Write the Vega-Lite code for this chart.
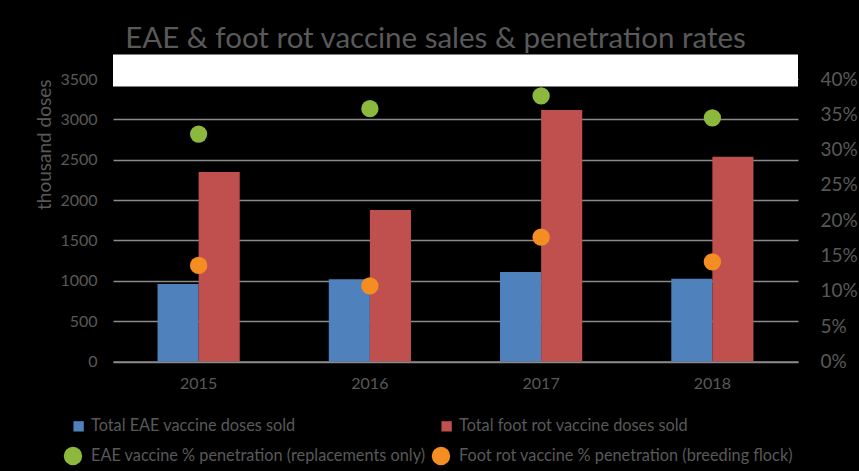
{
  "$schema": "https://vega.github.io/schema/vega-lite/v6.json",
  "width": 685,
  "height": 282.5,
  "autosize": "none",
  "padding": {"left": 113, "top": 79, "right": 61, "bottom": 109.5},
  "background": "#000000",
  "config": {"view": {"stroke": null}, "font": "Lato"},
  "title": {
    "text": "EAE & foot rot vaccine sales & penetration rates",
    "fontSize": 29.5,
    "font": "Lato",
    "fontWeight": "normal",
    "color": "#595959",
    "anchor": "middle",
    "offset": 0,
    "dx": -20
  },
  "datasets": {
    "bars": [
      {"year": "2015", "series": "Total EAE vaccine doses sold", "doses": 960},
      {"year": "2015", "series": "Total foot rot vaccine doses sold", "doses": 2348},
      {"year": "2016", "series": "Total EAE vaccine doses sold", "doses": 1019},
      {"year": "2016", "series": "Total foot rot vaccine doses sold", "doses": 1877},
      {"year": "2017", "series": "Total EAE vaccine doses sold", "doses": 1109},
      {"year": "2017", "series": "Total foot rot vaccine doses sold", "doses": 3116},
      {"year": "2018", "series": "Total EAE vaccine doses sold", "doses": 1026},
      {"year": "2018", "series": "Total foot rot vaccine doses sold", "doses": 2538}
    ],
    "pts": [
      {"year": "2015", "series": "EAE vaccine % penetration (replacements only)", "pct": 0.322},
      {"year": "2015", "series": "Foot rot vaccine % penetration (breeding flock)", "pct": 0.136},
      {"year": "2016", "series": "EAE vaccine % penetration (replacements only)", "pct": 0.358},
      {"year": "2016", "series": "Foot rot vaccine % penetration (breeding flock)", "pct": 0.107},
      {"year": "2017", "series": "EAE vaccine % penetration (replacements only)", "pct": 0.376},
      {"year": "2017", "series": "Foot rot vaccine % penetration (breeding flock)", "pct": 0.176},
      {"year": "2018", "series": "EAE vaccine % penetration (replacements only)", "pct": 0.345},
      {"year": "2018", "series": "Foot rot vaccine % penetration (breeding flock)", "pct": 0.141}
    ]
  },
  "layer": [
    {
      "layer": [
        {
          "data": {"name": "bars"},
          "mark": {"type": "bar"},
          "encoding": {
            "x": {
              "field": "year",
              "type": "nominal",
              "scale": {"paddingInner": 0.52, "paddingOuter": 0.26},
              "axis": {
                "title": null,
                "labelAngle": 0,
                "labelFontSize": 16,
                "labelColor": "#595959",
                "labelPadding": 14,
                "ticks": false,
                "domainColor": "#8a8a8a",
                "domainWidth": 1.3
              }
            },
            "xOffset": {
              "field": "series",
              "type": "nominal",
              "scale": {"paddingInner": 0, "paddingOuter": 0}
            },
            "y": {
              "field": "doses",
              "type": "quantitative",
              "scale": {"domain": [0, 3500], "nice": false},
              "axis": {
                "title": "thousand doses",
                "titleColor": "#595959",
                "titleFontSize": 19,
                "titleFontWeight": "normal",
                "titleAnchor": "end",
                "titlePadding": 5,
                "format": "d",
                "values": [0, 500, 1000, 1500, 2000, 2500, 3000, 3500],
                "labelFontSize": 16,
                "labelColor": "#595959",
                "labelPadding": 16,
                "ticks": false,
                "domain": false,
                "grid": true,
                "gridColor": "#8a8a8a",
                "gridWidth": 1.3
              }
            },
            "color": {
              "field": "series",
              "type": "nominal",
              "scale": {
                "domain": [
                  "Total EAE vaccine doses sold",
                  "EAE vaccine % penetration (replacements only)",
                  "Total foot rot vaccine doses sold",
                  "Foot rot vaccine % penetration (breeding flock)"
                ],
                "range": ["#4F81BD", "#8DB83E", "#C0504D", "#F58E22"]
              },
              "legend": {
                "title": null,
                "orient": "none",
                "legendX": -50,
                "legendY": 337,
                "columns": 2,
                "symbolSize": 340,
                "labelFontSize": 16.3,
                "labelColor": "#595959",
                "labelOffset": 8,
                "rowPadding": 11,
                "columnPadding": 5,
                "labelLimit": 450
              }
            }
          }
        },
        {
          "data": {"values": [{}]},
          "mark": {"type": "rect", "color": "#ffffff"},
          "encoding": {
            "y": {"datum": 3406},
            "y2": {"datum": 3803}
          }
        }
      ]
    },
    {
      "data": {"name": "pts"},
      "mark": {"type": "point", "filled": true, "opacity": 1, "size": 300},
      "encoding": {
        "x": {"field": "year", "type": "nominal"},
        "y": {
          "field": "pct",
          "type": "quantitative",
          "scale": {"domain": [0, 0.4], "nice": false},
          "axis": {
            "orient": "right",
            "title": null,
            "format": ".0%",
            "values": [0, 0.05, 0.1, 0.15, 0.2, 0.25, 0.3, 0.35, 0.4],
            "labelFontSize": 19,
            "labelColor": "#595959",
            "labelPadding": 22,
            "ticks": false,
            "domain": false,
            "grid": false
          }
        },
        "color": {"field": "series", "type": "nominal"},
        "shape": {
          "field": "series",
          "type": "nominal",
          "scale": {
            "domain": [
              "Total EAE vaccine doses sold",
              "EAE vaccine % penetration (replacements only)",
              "Total foot rot vaccine doses sold",
              "Foot rot vaccine % penetration (breeding flock)"
            ],
            "range": ["M0.05,-0.56H1.17V0.56H0.05Z", "circle", "M0.05,-0.56H1.17V0.56H0.05Z", "circle"]
          }
        }
      }
    }
  ],
  "resolve": {"scale": {"y": "independent"}}
}
